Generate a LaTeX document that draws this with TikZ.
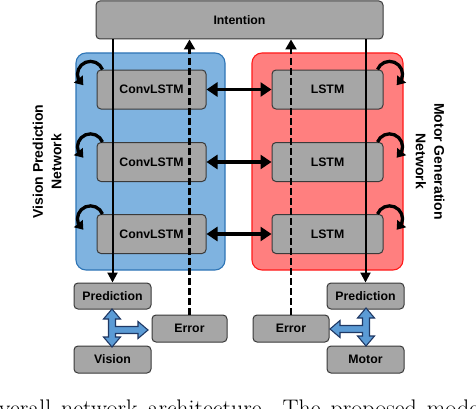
\documentclass[tikz,border=0pt]{standalone}
\usepackage{fontspec}
\newfontfamily\arialfont{Liberation Sans}
\usetikzlibrary{arrows.meta,bending,calc}
\definecolor{boxgray}{HTML}{A6A6A6}
\definecolor{boxline}{HTML}{3A3A3A}
\definecolor{vfill}{HTML}{7FB3E0}
\definecolor{vline}{HTML}{2E75B6}
\definecolor{mfill}{HTML}{FF7F7F}
\definecolor{mline}{HTML}{FF1A1A}
\definecolor{bafill}{HTML}{5B9BD5}
\definecolor{baline}{HTML}{1F3864}
\begin{document}
\begin{tikzpicture}[x=1pt,y=1pt,
 blk/.style={draw=boxline, fill=boxgray, line width=1pt, rounded corners=4pt, inner sep=0pt, font=\arialfont\bfseries\fontsize{12.3}{14}\selectfont},
 panel/.style={line width=1.1pt, rounded corners=10pt, inner sep=0pt},
 sidelabel/.style={align=center, inner sep=0pt, font=\arialfont\bfseries\fontsize{14}{18.5}\selectfont},
 solidarrow/.style={line width=2pt, -{Triangle[length=10pt,width=10pt]}},
 dasharrow/.style={line width=2.2pt, dash pattern=on 6.5pt off 3.5pt, -{Triangle[length=10pt,width=11pt]}},
 linkarrow/.style={line width=3.5pt, {Triangle[length=11pt,width=14pt]}-{Triangle[length=11pt,width=14pt]}},
 looparrow/.style={line width=3.3pt, -{Triangle[length=8pt,width=11pt]}},
 blockarrow/.style={fill=bafill, draw=baline, line width=1.1pt, line join=miter}]
\useasboundingbox (0,0) rectangle (476,408);
\fill[white] (0,0) rectangle (476,408);

% panels
\node[panel, draw=vline, fill=vfill, minimum width=149pt, minimum height=217pt] (vpanel) at (150.5,246.5) {};
\node[panel, draw=mline, fill=mfill, minimum width=151pt, minimum height=217pt] (mpanel) at (327.5,246.5) {};

% top box
\node[blk, minimum width=287pt, minimum height=38pt] (intention) at (239.5,388) {Intention};

% recurrent boxes
\foreach \i/\yy in {1/318.5,2/246,3/174}{
  \node[blk, minimum width=109pt, minimum height=39pt] (c\i) at (151.5,\yy) {ConvLSTM};
  \node[blk, minimum width=111pt, minimum height=39pt] (l\i) at (327.5,\yy) {LSTM};
}

% lower boxes
\node[blk, minimum width=77pt, minimum height=26pt] (predL) at (112.5,112) {Prediction};
\node[blk, minimum width=75pt, minimum height=27pt] (errL) at (189.5,79.5) {Error};
\node[blk, minimum width=77pt, minimum height=27pt] (vision) at (112.5,48.5) {Vision};
\node[blk, minimum width=77pt, minimum height=26pt] (predR) at (365.5,112) {Prediction};
\node[blk, minimum width=76pt, minimum height=27pt] (errR) at (291,79.5) {Error};
\node[blk, minimum width=77pt, minimum height=27pt] (motor) at (365.5,48.5) {Motor};

% side labels
\node[sidelabel, rotate=90] (vlabel) at (47,246.5) {Vision Prediction\\Network};
\node[sidelabel, rotate=-90] (mlabel) at (430,246.5) {Motor Generation\\Network};

% vertical connectors
\draw[solidarrow] (predL.north |- intention.south) -- (predL.north);
\draw[solidarrow] (predR.north |- intention.south) -- (predR.north);
\draw[dasharrow] (errL.north) -- (errL.north |- intention.south);
\draw[dasharrow] (errR.north) -- (errR.north |- intention.south);

% links between networks and recurrent loops
\foreach \i in {1,2,3}{
  \draw[linkarrow] (c\i.east) -- (l\i.west);
  \draw[looparrow] ($(c\i.north west)+(6,0)$) arc[start angle=22, end angle=237, radius=13];
  \draw[looparrow] ($(l\i.north east)+(-6,0)$) arc[start angle=158, end angle=-57, radius=13];
}

% block arrows
\path[blockarrow, shift={(112,78)}]
  (0,21) -- (8.5,11) -- (3.5,11) -- (3.5,3.5) -- (26,3.5) -- (26,8.5) -- (36,0) -- (26,-8.5) -- (26,-3.5)
  -- (3.5,-3.5) -- (3.5,-7) -- (8.5,-7) -- (0,-17) -- (-8.5,-7) -- (-3.5,-7) -- (-3.5,11) -- (-8.5,11) -- cycle;
\path[blockarrow, shift={(366,79)}, xscale=-1]
  (0,21) -- (8.5,11) -- (3.5,11) -- (3.5,3.5) -- (26,3.5) -- (26,8.5) -- (36,0) -- (26,-8.5) -- (26,-3.5)
  -- (3.5,-3.5) -- (3.5,-7) -- (8.5,-7) -- (0,-17) -- (-8.5,-7) -- (-3.5,-7) -- (-3.5,11) -- (-8.5,11) -- cycle;

% clipped caption, cut at the lower edge as in the reference
\begin{scope}
  \clip (0,0) rectangle (476,408);
  \node[anchor=base west, inner sep=0pt, font=\fontsize{24}{28}\selectfont] (caption) at (-18.5,-8) {\spaceskip=10pt\relax\xspaceskip=15pt\relax Overall network architecture. The proposed model};
\end{scope}
\end{tikzpicture}
\end{document}
